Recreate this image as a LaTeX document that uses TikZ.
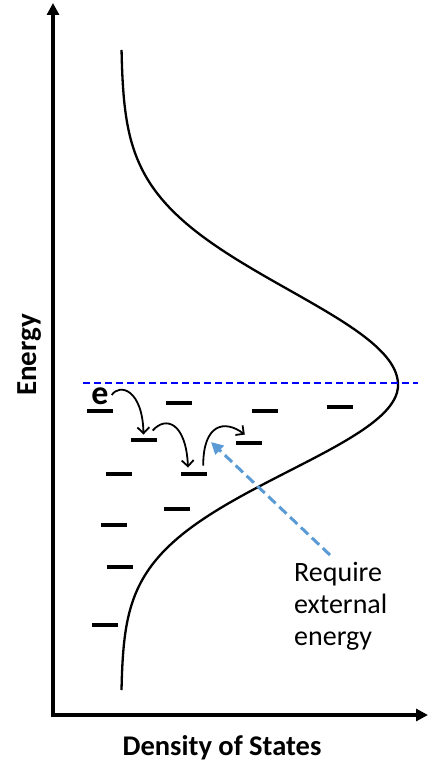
\documentclass[tikz,border=0pt]{standalone}
\usepackage{fontspec}
\setmainfont{Carlito}
\usetikzlibrary{arrows.meta,calc}
\begin{document}
\begin{tikzpicture}[x=1pt,y=1pt,
  axis/.style={line width=3.5pt,{Triangle[length=12pt,width=12pt]}-{Triangle[length=12pt,width=12pt]}},
  level/.style={fill=black,inner sep=0pt,minimum width=26pt,minimum height=4.5pt},
  hop/.style={line width=1.8pt,-{Straight Barb[length=6pt,width=12pt,line width=1.8pt]}},
  fermi/.style={blue,line width=1.6pt,dash pattern=on 7pt off 4pt},
  extarrow/.style={draw={rgb,255:red,91;green,155;blue,213},line width=3pt,dash pattern=on 10pt off 5pt,
     -{Triangle[length=12pt,width=12pt,fill={rgb,255:red,91;green,155;blue,213}]}},
  lbl/.style={inner sep=0pt,font=\fontsize{28}{32}\selectfont}
]
\useasboundingbox (0,0) rectangle (428,-765);
% axes
\coordinate (O) at (53,-715);
\coordinate (ytip) at (53,-3);
\coordinate (xtip) at (428,-715);
\draw[axis] (ytip) -- (O) -- (xtip);
% density of states curve
\draw[line width=2.3pt,line join=round] plot[domain=-335:305,samples=160,smooth]
   ({121+277*exp(-0.5*(\x/(\x<0 ? 95 : 86))^2)},{-385-\x});
% Fermi level
\coordinate (f1) at (83,-383);
\coordinate (f2) at (418,-383);
\draw[fermi] (f1) -- (f2);
% levels
\node[level] (b1) at (100,-411) {};
\node[level] (b2) at (179,-403) {};
\node[level] (b3) at (265,-411) {};
\node[level] (b4) at (340,-407) {};
\node[level] (b5) at (143.5,-440) {};
\node[level] (b6) at (249,-443) {};
\node[level] (b7) at (118.5,-474) {};
\node[level] (b8) at (194,-474) {};
\node[level] (b9) at (176.5,-509) {};
\node[level] (b10) at (113.5,-525) {};
\node[level] (b11) at (119.5,-567) {};
\node[level] (b12) at (105,-625) {};
% electron
\node[inner sep=0pt,font=\fontsize{34}{34}\bfseries\selectfont] (e) at (100,-396) {e};
% hops
\draw[hop] ($(e.east)+(3,1)$) .. controls +(8,12) and +(-1,45) .. ($(b5.north)+(0,3)$);
\draw[hop] ($(b5.north east)+(-4,7)$) .. controls +(13,15) and +(-2,45) .. ($(b8.north)+(-6,4)$);
\draw[hop] ($(b8.north east)+(-4,6)$) .. controls +(0,42) and +(-20,15) .. ($(b6.north west)+(9,6)$);
% external energy arrow
\coordinate (extA) at (330,-555);
\coordinate (extB) at (211,-442);
\draw[extarrow] (extA) -- (extB);
\node[lbl,anchor=north west,align=left] (req) at (294,-562) {Require\\external\\energy};
% axis labels
\node[inner sep=0pt,font=\fontsize{28.5}{28.5}\bfseries\selectfont,anchor=base] (xl) at (222,-755) {Density of States};
\node[inner sep=0pt,font=\fontsize{29}{29}\bfseries\selectfont,rotate=90,anchor=base] (yl) at (36,-355) {Energy};
\end{tikzpicture}
\end{document}
